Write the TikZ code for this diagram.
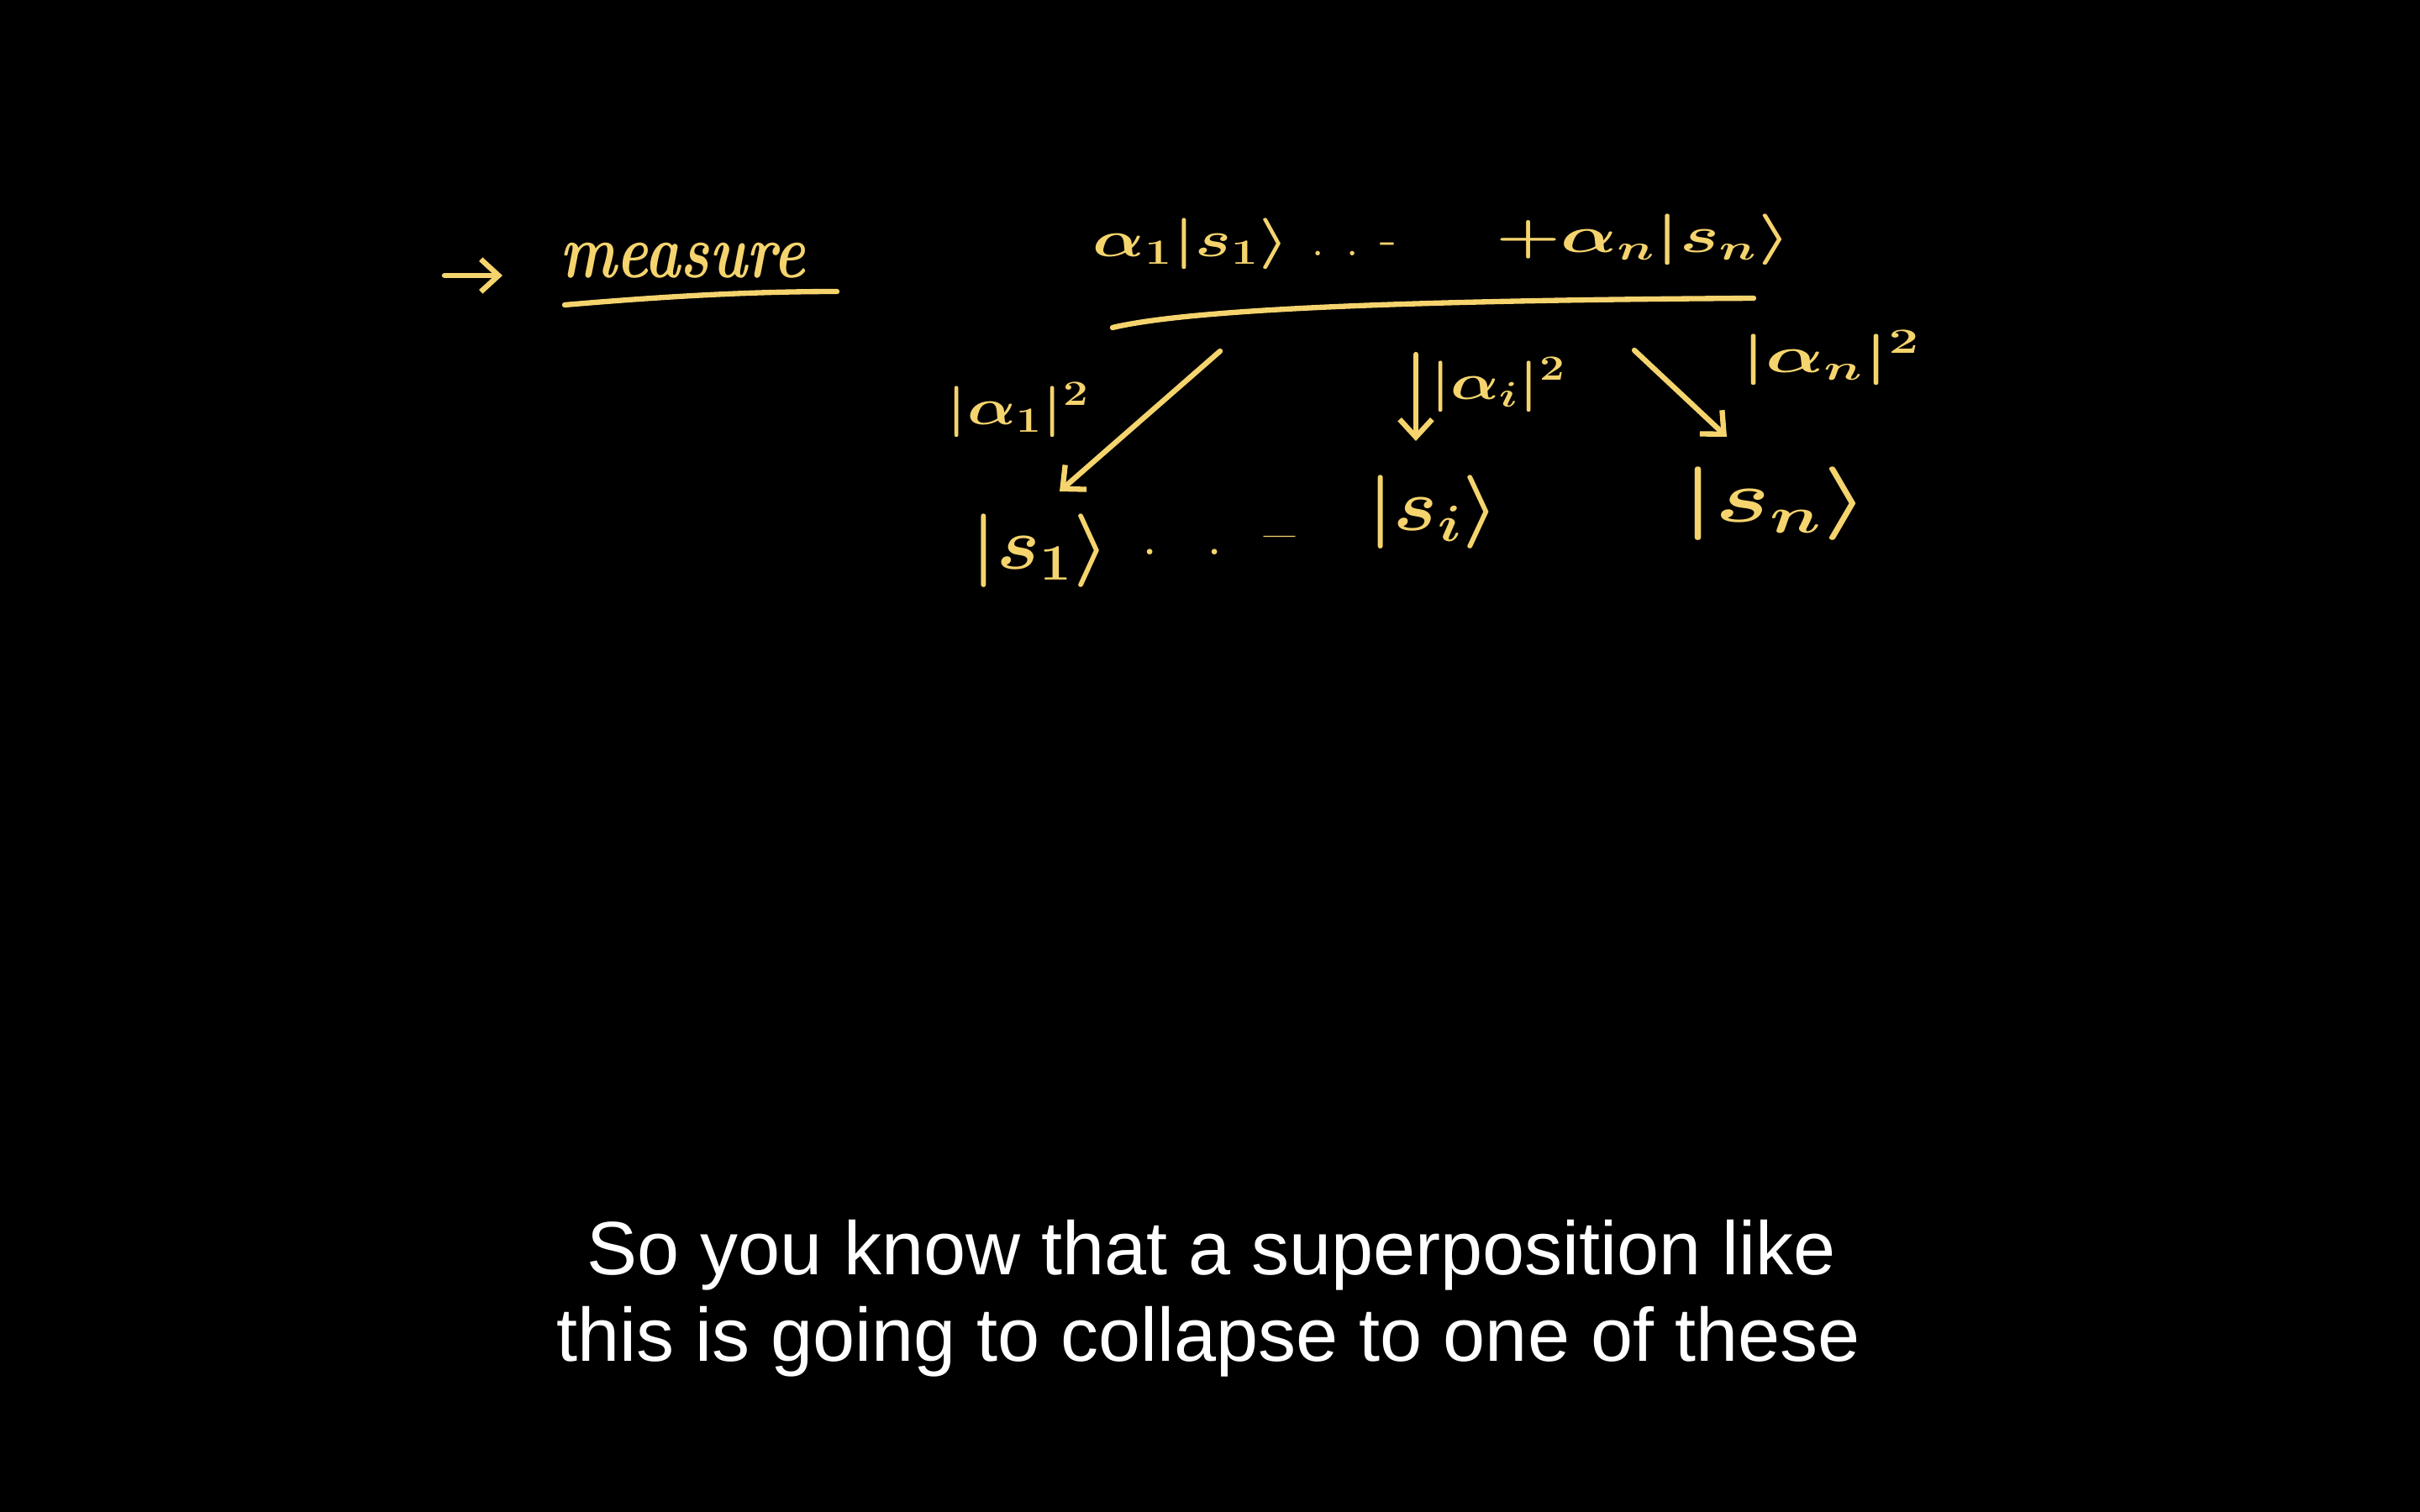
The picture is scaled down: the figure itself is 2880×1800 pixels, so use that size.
\documentclass[tikz,border=0pt]{standalone}
\usepackage{amsmath}
\usepackage{graphicx}
\usepackage{fontspec}
\usetikzlibrary{arrows.meta}
\newfontfamily\subfont{Liberation Sans}
\definecolor{chalk}{RGB}{245,212,110}
\newcommand\hwx[2]{\scalebox{#1}[1]{#2}}
\begin{document}
\begin{tikzpicture}[x=0.01cm,y=-0.01cm,
  hw/.style={text=chalk, inner sep=0pt},
  hwbig/.style={hw, font=\fontsize{23}{25}\selectfont\boldmath},
  hwmid/.style={hw, font=\fontsize{18.5}{20}\selectfont\boldmath},
  stroke/.style={draw=chalk, line width=1.8pt, line cap=round, line join=round},
  tip/.style={-{Straight Barb[length=6pt,width=11pt]}},
  subtitle/.style={text=white, font=\subfont\fontsize{25.6}{30}\selectfont, anchor=base, inner sep=0pt}]
\fill[black] (0,0) rectangle (2880,1800);

% measure
\coordinate (ma1) at (529,328);
\coordinate (ma2) at (598,328);
\draw[stroke, tip] (ma1) -- (ma2);
\node[hw, font=\fontsize{26}{28}\selectfont\itshape\bfseries] (measure) at (812,310) {\hwx{0.78}{measure}};
\coordinate (mu1) at (672,363);
\coordinate (mu2) at (996,347);
\draw[stroke] (mu1) .. controls (800,352) and (900,347) .. (mu2);

% top superposition
\node[hwmid] (top1) at (1418,290) {\hwx{1.33}{$\alpha_1|s_1\rangle$}};
\node[hwmid, anchor=base west] (topdots) at (1560,305) {.\hspace{7pt}.\hspace{7pt}-};
\node[hwmid] (topn) at (1956,285) {\hwx{1.45}{$+\alpha_n|s_n\rangle$}};
\coordinate (tl1) at (1324,390);
\coordinate (tl2) at (2087,355);
\draw[stroke] (tl1) .. controls (1400,372) and (1600,358) .. (tl2);

% probability labels
\node[hwmid] (l1) at (1212,488) {\hwx{1.25}{$|\alpha_1|^2$}};
\node[hwmid] (li) at (1783,458) {\hwx{1.25}{$|\alpha_i|^2$}};
\node[hwmid] (ln) at (2179,426) {\hwx{1.5}{$|\alpha_n|^2$}};

% resulting states
\node[hwbig] (k1) at (1238,656) {\hwx{1.1}{$|s_1\rangle$}};
\node[hwbig, anchor=base west] (kdots) at (1358,660) {.\hspace{16pt}.\hspace{14pt}--};
\node[hwbig] (ki) at (1706,610) {\hwx{1.12}{$|s_i\rangle$}};
\node[hwbig] (kn) at (2113,600) {\hwx{1.4}{$|s_n\rangle$}};

% arrows
\coordinate (a1s) at (1452,418);
\coordinate (a1e) at (1261,585);
\coordinate (a2s) at (1685,422);
\coordinate (a2e) at (1685,525);
\coordinate (a3s) at (1945,417);
\coordinate (a3e) at (2055,520);
\draw[stroke, tip] (a1s) -- (a1e);
\draw[stroke, tip] (a2s) -- (a2e);
\draw[stroke, tip] (a3s) -- (a3e);

% subtitle
\node[subtitle] (sub1) at (1442,1517) {So you know that a superposition like};
\node[subtitle] (sub2) at (1438,1620) {this is going to collapse to one of these};
\end{tikzpicture}
\end{document}
